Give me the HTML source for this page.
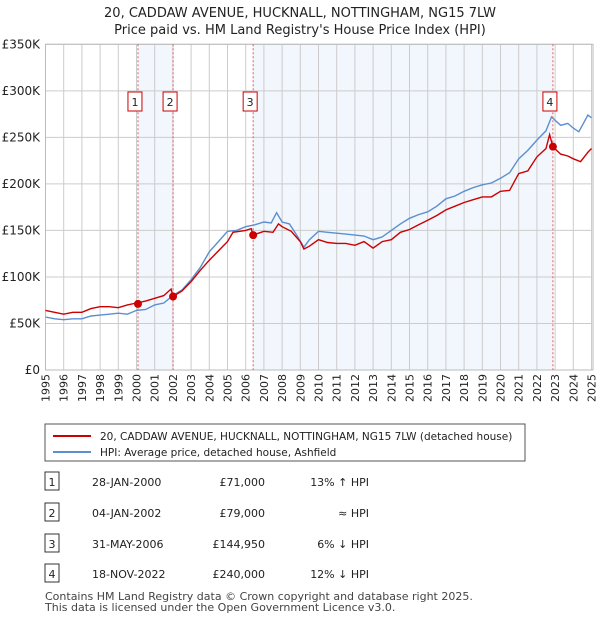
<!DOCTYPE html>
<html><head><meta charset="utf-8"><style>
body{margin:0;background:#fff;font-family:"Liberation Sans","DejaVu Sans",sans-serif;}
svg text{font-family:"DejaVu Sans","Liberation Sans",sans-serif;}
</style></head><body>
<svg id="c" width="600" height="620" xmlns="http://www.w3.org/2000/svg">
<text x="300" y="17" text-anchor="middle" font-size="13" fill="#222">20, CADDAW AVENUE, HUCKNALL, NOTTINGHAM, NG15 7LW</text>
<text x="300" y="34" text-anchor="middle" font-size="13" fill="#222">Price paid vs. HM Land Registry's House Price Index (HPI)</text>
<g id="plot"></g>
<g>
<rect x="45" y="424" width="480" height="37" fill="#fff" stroke="#555"/>
<line x1="53" y1="436" x2="91" y2="436" stroke="#cc0000" stroke-width="2"/>
<text x="100" y="440" font-size="10.5" fill="#222">20, CADDAW AVENUE, HUCKNALL, NOTTINGHAM, NG15 7LW (detached house)</text>
<line x1="53" y1="452" x2="91" y2="452" stroke="#5b8fd0" stroke-width="2"/>
<text x="100" y="456" font-size="10.5" fill="#222">HPI: Average price, detached house, Ashfield</text>
</g>
<g id="tbl" font-size="11" fill="#222"></g>
<text x="45" y="600" font-size="11" fill="#444">Contains HM Land Registry data © Crown copyright and database right 2025.</text>
<text x="45" y="611" font-size="11" fill="#444">This data is licensed under the Open Government Licence v3.0.</text>
</svg>
<script>
const hpiYears=[1995,1995.5,1996,1996.5,1997,1997.5,1998,1998.5,1999,1999.5,2000,2000.5,2001,2001.5,2002,2002.5,2003,2003.5,2004,2004.5,2005,2005.5,2006,2006.5,2007,2007.4,2007.7,2008,2008.4,2008.8,2009.2,2009.5,2010,2010.5,2011,2011.5,2012,2012.5,2013,2013.5,2014,2014.5,2015,2015.5,2016,2016.5,2017,2017.5,2018,2018.5,2019,2019.5,2020,2020.5,2021,2021.5,2022,2022.5,2022.8,2023.3,2023.7,2024,2024.3,2024.8,2025];
const hpiValues=[57,55,54,55,55,58,59,60,61,60,64,65,70,72,80,86,97,110,127,138,149,150,154,156,159,158,169,159,157,145,132,140,149,148,147,146,145,144,140,143,150,157,163,167,170,176,184,187,192,196,199,201,206,212,227,236,247,257,272,263,265,260,256,274,271];
const priceYears=[1995,1995.5,1996,1996.5,1997,1997.5,1998,1998.5,1999,1999.5,2000,2000.5,2001,2001.5,2001.9,2002,2002.5,2003,2003.5,2004,2004.5,2005,2005.3,2006,2006.3,2006.4,2007,2007.5,2007.8,2008,2008.5,2009,2009.2,2009.5,2010,2010.5,2011,2011.5,2012,2012.5,2013,2013.5,2014,2014.5,2015,2015.5,2016,2016.5,2017,2017.5,2018,2018.5,2019,2019.5,2020,2020.5,2021,2021.5,2022,2022.5,2022.7,2022.88,2023.3,2023.7,2024,2024.4,2024.8,2025];
const priceValues=[64,62,60,62,62,66,68,68,67,70,72,74,77,80,87,79,85,95,107,118,128,138,148,150,152,145,149,148,157,154,149,138,130,133,140,137,136,136,134,138,131,138,140,148,151,156,161,166,172,176,180,183,186,186,192,193,211,214,229,238,253,240,232,230,227,224,234,238];
const sales=[{n:"1",t:2000.08,v:71,d:"28-JAN-2000",p:"£71,000",h:"13% ↑ HPI"},{n:"2",t:2002.01,v:79,d:"04-JAN-2002",p:"£79,000",h:"≈ HPI"},{n:"3",t:2006.41,v:144.95,d:"31-MAY-2006",p:"£144,950",h:"6% ↓ HPI"},{n:"4",t:2022.88,v:240,d:"18-NOV-2022",p:"£240,000",h:"12% ↓ HPI"}];
const yTicks=[0,50,100,150,200,250,300,350];
const yTickLabels=["£0","£50K","£100K","£150K","£200K","£250K","£300K","£350K"];
const NS="http://www.w3.org/2000/svg";
const L=45.5,R=591.5,T=44.3,B=370;
const X=t=>L+(t-1995)*(R-L)/30;
const Y=v=>B-v*(B-T)/350;
const plot=document.getElementById('plot');
function mk(tag,a,parent){const e=document.createElementNS(NS,tag);for(const k in a)e.setAttribute(k,a[k]);(parent||plot).appendChild(e);return e;}
[[sales[0].t,sales[1].t],[sales[2].t,sales[3].t]].forEach((s,i)=>{const r=mk('rect',{x:X(s[0]),y:T,width:X(s[1])-X(s[0]),height:B-T,fill:'#f2f6fd'});

});
for(let y=1995;y<=2025;y++){const l=mk('line',{x1:X(y),x2:X(y),y1:T,y2:B,stroke:'#ccc','stroke-width':1});


const tx=mk('text',{x:0,y:0,'font-size':11,fill:'#222','text-anchor':'end',transform:`translate(${X(y)+4},374) rotate(-90)`});tx.textContent=y;

}
yTicks.forEach((v,i)=>{const l=mk('line',{x1:L,x2:R,y1:Y(v),y2:Y(v),stroke:'#ccc','stroke-width':1});


const tx=mk('text',{x:40,y:Y(v)+4,'font-size':12,fill:'#222','text-anchor':'end'});tx.textContent=yTickLabels[i];

});
mk('rect',{x:L,y:T,width:R-L+1.5,height:B-T,fill:'none',stroke:'#bbb'});
sales.forEach(s=>{const l=mk('line',{x1:X(s.t),x2:X(s.t),y1:T,y2:B,stroke:'#e55','stroke-width':1,'stroke-dasharray':'2,2'});


const bx=mk('rect',{x:X(s.t)-10,y:92,width:14,height:19,fill:'#fff',stroke:'#c00'});


const tx=mk('text',{x:X(s.t)-3,y:106,'font-size':11,'text-anchor':'middle',fill:'#222'});tx.textContent=s.n;

});
function line(xs,vs,col,name){const p=mk('path',{d:xs.map((t,i)=>(i?'L':'M')+X(t).toFixed(1)+','+Y(vs[i]).toFixed(1)).join(''),fill:'none',stroke:col,'stroke-width':1.4});

}
line(hpiYears,hpiValues,'#5b8fd0','hpi-line');
line(priceYears,priceValues,'#cc0000','price-line');
sales.forEach(s=>{const c=mk('circle',{cx:X(s.t),cy:Y(s.v),r:4,fill:'#cc0000'});

});
const tb=document.getElementById('tbl');const rowsY=[482,513,544,574];
sales.forEach((s,i)=>{const y=rowsY[i];
const r=mk('rect',{x:45,y:y-10,width:14,height:18,fill:'#fff',stroke:'#333'},tb);


[[52,s.n,'middle'],[92,s.d,'start'],[265,s.p,'end'],[369,s.h,'end']].forEach((c,j)=>{const t=mk('text',{x:c[0],y:y+4,'text-anchor':c[2]},tb);t.textContent=c[1];

});});
</script>
</body></html>
